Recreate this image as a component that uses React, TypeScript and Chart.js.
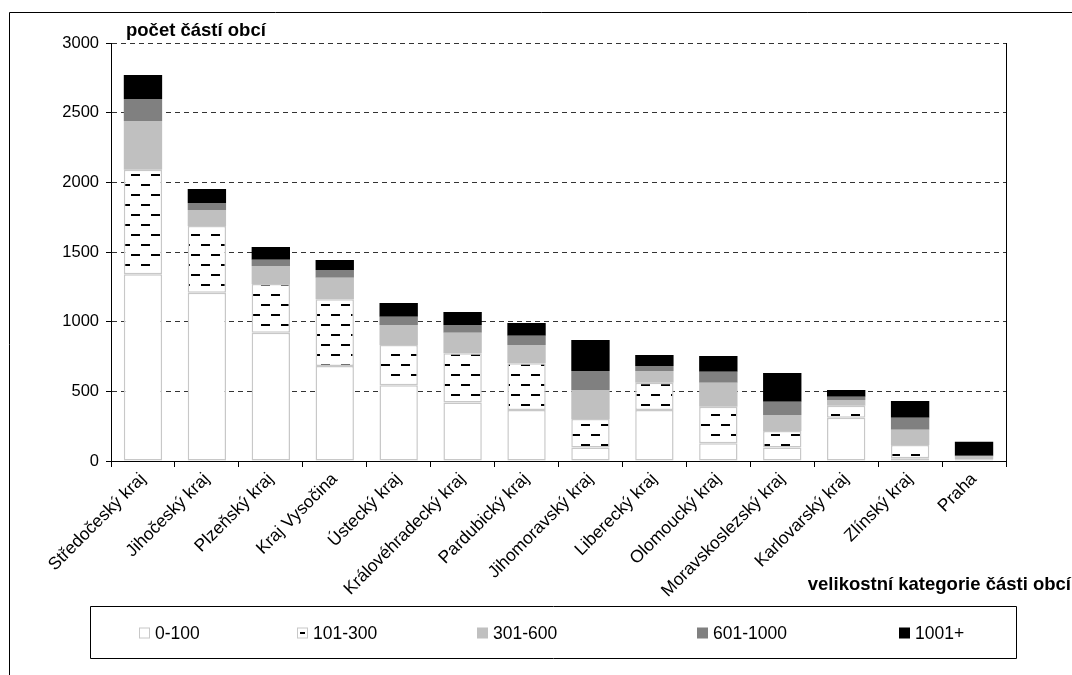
import React, { useEffect, useRef } from "react";
import { Chart, registerables } from "chart.js";

Chart.register(...registerables);

const regions = [
  "Středočeský kraj",
  "Jihočeský kraj",
  "Plzeňský kraj",
  "Kraj Vysočina",
  "Ústecký kraj",
  "Královéhradecký kraj",
  "Pardubický kraj",
  "Jihomoravský kraj",
  "Liberecký kraj",
  "Olomoucký kraj",
  "Moravskoslezský kraj",
  "Karlovarský kraj",
  "Zlínský kraj",
  "Praha",
];

const seriesLabels = ["0-100", "101-300", "301-600", "601-1000", "1001+"];

const size0to100 = [1340, 1208, 921, 682, 543, 419, 366, 96, 366, 127, 96, 311, 19, 3];
const size101to300 = [750, 479, 349, 478, 290, 354, 335, 205, 196, 263, 119, 86, 96, 10];
const size301to600 = [350, 114, 130, 156, 143, 148, 132, 209, 84, 172, 115, 41, 110, 20];
const size601to1000 = [158, 51, 45, 55, 60, 55, 66, 136, 36, 79, 96, 24, 86, 5];
const size1001plus = [172, 100, 91, 72, 98, 93, 91, 222, 79, 113, 206, 48, 120, 100];

const yMin = 0;
const yMax = 3000;
const yStep = 500;

const yAxisTitle = "počet částí obcí";
const xAxisTitle = "velikostní kategorie části obcí";

const FONT = "Arial, 'Liberation Sans', sans-serif";

function makeDashPattern(): CanvasPattern | string {
  const tile = document.createElement("canvas");
  tile.width = 20;
  tile.height = 20;
  const c = tile.getContext("2d");
  if (!c) return "#ffffff";
  c.fillStyle = "#ffffff";
  c.fillRect(0, 0, 20, 20);
  c.fillStyle = "#000000";
  c.fillRect(1, 4, 9, 2);
  c.fillRect(11, 14, 9, 2);
  const p = c.createPattern(tile, "repeat");
  return p || "#ffffff";
}

export default function App() {
  const canvasRef = useRef<HTMLCanvasElement | null>(null);

  useEffect(() => {
    const canvas = canvasRef.current;
    if (!canvas) return;
    const pattern = makeDashPattern();

    const fills = ["#ffffff", pattern, "#c0c0c0", "#808080", "#000000"];
    const values = [size0to100, size101to300, size301to600, size601to1000, size1001plus];

    const datasets = seriesLabels.map((label, i) => ({
      label,
      data: values[i],
      backgroundColor: fills[i],
      borderColor: i < 2 ? "#c8c8c8" : "rgba(0,0,0,0)",
      borderWidth: i < 2 ? 1.5 : 0,
      borderSkipped: false as const,
      barPercentage: 0.6,
      categoryPercentage: 1.0,
    }));

    const legendSwatchX = [139, 297, 477, 697, 899];

    const decorPlugin = {
      id: "decor",
      afterDraw(chart: any) {
        const ctx = chart.ctx as CanvasRenderingContext2D;
        const area = chart.chartArea;
        ctx.save();
        // outer frame
        ctx.strokeStyle = "#000000";
        ctx.lineWidth = 1;
        ctx.beginPath();
        ctx.moveTo(9.5, 700);
        ctx.lineTo(9.5, 12.5);
        ctx.lineTo(1100, 12.5);
        ctx.stroke();
        // right border of plot area
        ctx.beginPath();
        ctx.moveTo(Math.round(area.right) + 0.5, area.top);
        ctx.lineTo(Math.round(area.right) + 0.5, area.bottom);
        ctx.stroke();
        // axis titles
        ctx.fillStyle = "#000000";
        ctx.font = `bold 18.5px ${FONT}`;
        ctx.textAlign = "left";
        ctx.textBaseline = "alphabetic";
        ctx.fillText(yAxisTitle, area.left + 15, 36);
        ctx.textAlign = "right";
        ctx.fillText(xAxisTitle, 1071, 590);
        // legend box
        ctx.strokeStyle = "#000000";
        ctx.beginPath();
        ctx.rect(90.5, 606.5, 926, 52);
        ctx.stroke();
        ctx.font = `17.5px ${FONT}`;
        ctx.textAlign = "left";
        ctx.textBaseline = "middle";
        const cy = 633;
        chart.data.datasets.forEach((ds: any, i: number) => {
          const x = legendSwatchX[i];
          const s = 11;
          const y = cy - s / 2;
          if (i < 2) {
            ctx.fillStyle = "#ffffff";
            ctx.fillRect(x, y, s, s);
            ctx.strokeStyle = "#c8c8c8";
            ctx.lineWidth = 1;
            ctx.strokeRect(x + 0.5, y + 0.5, s - 1, s - 1);
            if (i === 1) {
              ctx.fillStyle = "#000000";
              ctx.fillRect(x + 3, cy - 1, 5, 2);
            }
          } else {
            ctx.fillStyle = ds.backgroundColor;
            ctx.fillRect(x, y, s, s);
          }
          ctx.fillStyle = "#000000";
          ctx.fillText(ds.label, x + 16, cy + 1);
        });
        ctx.restore();
      },
    };

    const chart = new Chart(canvas, {
      type: "bar",
      data: { labels: regions, datasets },
      options: {
        animation: false,
        responsive: true,
        maintainAspectRatio: false,
        layout: { padding: { left: 0, top: 43, right: 66, bottom: 74 } },
        plugins: {
          legend: { display: false },
          title: { display: false },
          tooltip: { enabled: false },
        },
        scales: {
          x: {
            stacked: true,
            afterFit: (scale: any) => {
              scale.height = 140;
            },
            grid: {
              display: true,
              offset: true,
              drawOnChartArea: false,
              drawTicks: true,
              tickLength: 6,
              color: "#000000",
            },
            border: { display: true, color: "#000000", width: 1 },
            ticks: {
              color: "#000000",
              font: { family: FONT, size: 17.5 },
              minRotation: 45,
              maxRotation: 45,
              autoSkip: false,
              padding: 2,
            },
          },
          y: {
            stacked: true,
            min: yMin,
            max: yMax,
            afterFit: (scale: any) => {
              scale.width = 111;
            },
            grid: {
              display: true,
              color: "#333333",
              drawTicks: true,
              tickLength: 5,
              tickColor: "#000000",
              tickBorderDash: [],
            } as any,
            border: { display: true, color: "#000000", width: 1, dash: [5, 4] },
            ticks: {
              stepSize: yStep,
              color: "#000000",
              font: { family: FONT, size: 16.5 },
              padding: 7,
              callback: (v: any) => String(v),
            },
          },
        },
      },
      plugins: [decorPlugin],
    });

    return () => {
      chart.destroy();
    };
  }, []);

  return (
    <div style={{ position: "absolute", left: 0, top: 0, width: 1072, height: 675, background: "#ffffff" }}>
      <canvas ref={canvasRef} />
    </div>
  );
}
